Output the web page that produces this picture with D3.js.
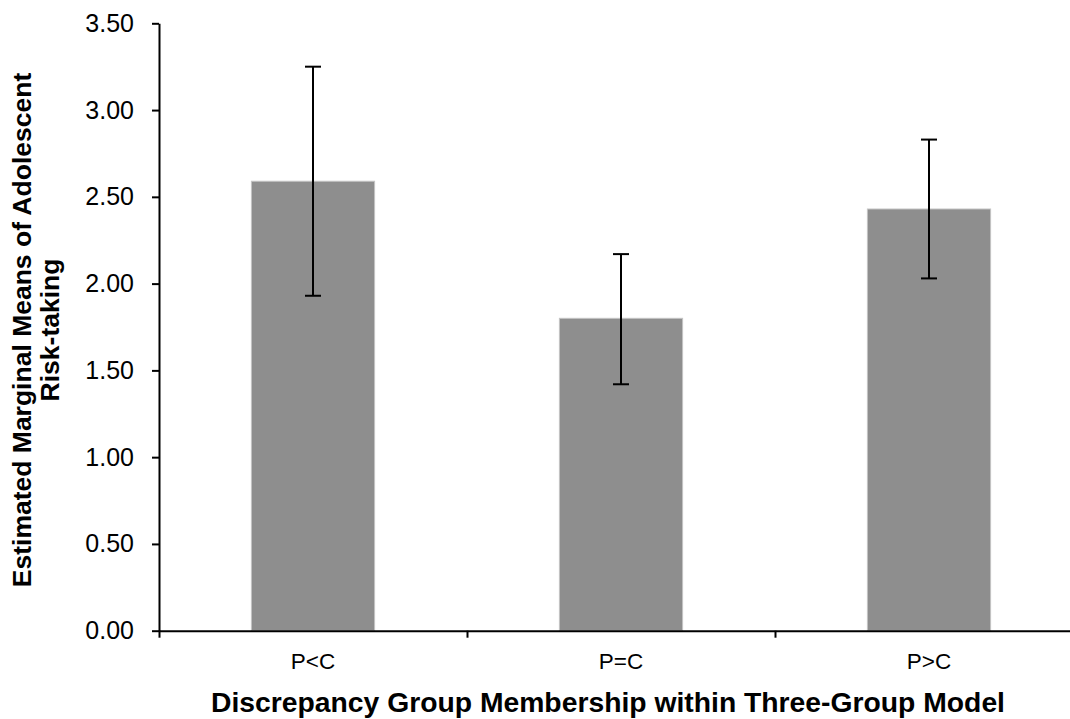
<!DOCTYPE html>
<html>
<head>
<meta charset="utf-8">
<script src="https://cdn.jsdelivr.net/npm/d3@7"></script>
<style>
  body { margin: 0; background: #fff; }
  svg { display: block; font-family: "Liberation Sans", Arial, sans-serif; }
</style>
</head>
<body>
<div class="chart"></div>
<script>
const groups = ["P<C", "P=C", "P>C"];
const means = [2.59, 1.80, 2.43];
const lower = [1.93, 1.42, 2.03];
const upper = [3.25, 2.17, 2.83];
const yTicks = [0, 0.5, 1, 1.5, 2, 2.5, 3, 3.5];

const data = groups.map((g, i) => ({ group: g, mean: means[i], lo: lower[i], hi: upper[i] }));

const margin = { top: 23.3, left: 159 };
const width = 924;
const height = 607.4;

const svg = d3
  .select(".chart")
  .append("svg")
  .attr("width", 1070)
  .attr("height", 719);

const g = svg
  .append("g")
  .attr("transform", "translate(" + margin.left + "," + margin.top + ")");

const xScale = d3
  .scaleBand()
  .domain(groups)
  .range([0, width])
  .paddingInner(0.6)
  .paddingOuter(0.3);

const yScale = d3.scaleLinear().domain([0, 3.5]).range([height, 0]);

// bars
g.selectAll(".bar")
  .data(data)
  .enter()
  .append("rect")
  .attr("class", "bar")
  .attr("x", (d) => xScale(d.group))
  .attr("y", (d) => yScale(d.mean))
  .attr("width", xScale.bandwidth())
  .attr("height", (d) => yScale(0) - yScale(d.mean))
  .attr("fill", "#8e8e8e")
  .attr("stroke", "#c4c4c4")
  .attr("stroke-width", 1);

// error bars
const cx = (d) => xScale(d.group) + xScale.bandwidth() / 2;
const err = g.selectAll(".err").data(data).enter().append("g").attr("class", "err");

err.append("line")
  .attr("x1", cx).attr("x2", cx)
  .attr("y1", (d) => yScale(d.hi))
  .attr("y2", (d) => yScale(d.lo))
  .attr("stroke", "black")
  .attr("stroke-width", 2);

["hi", "lo"].forEach((k) => {
  err.append("line")
    .attr("x1", (d) => cx(d) - 8)
    .attr("x2", (d) => cx(d) + 8)
    .attr("y1", (d) => yScale(d[k]))
    .attr("y2", (d) => yScale(d[k]))
    .attr("stroke", "black")
    .attr("stroke-width", 2);
});

// y axis
const yAxis = g
  .append("g")
  .call(
    d3.axisLeft(yScale)
      .tickValues(yTicks)
      .tickFormat(d3.format(".2f"))
      .tickSize(7)
      .tickSizeOuter(0)
      .tickPadding(18)
  );
yAxis.selectAll("text").style("font-size", "25px").attr("fill", "black");
yAxis.selectAll("line, path").attr("stroke", "black").attr("stroke-width", 2);

// x axis: ticks on category boundaries, labels at centres
const xEdge = d3.scaleLinear().domain([0, groups.length]).range([0, width]);
const xAxis = g
  .append("g")
  .attr("transform", "translate(0," + height + ")")
  .call(d3.axisBottom(xEdge).ticks(groups.length).tickFormat("").tickSize(7).tickSizeOuter(0));
xAxis.selectAll("line, path").attr("stroke", "black").attr("stroke-width", 2);

g.append("g")
  .selectAll(".xlabel")
  .data(groups)
  .enter()
  .append("text")
  .attr("class", "xlabel")
  .attr("x", (d) => xScale(d) + xScale.bandwidth() / 2)
  .attr("y", height + 38.5)
  .attr("text-anchor", "middle")
  .style("font-size", "22.5px")
  .text((d) => d);

// axis titles
svg.append("text")
  .attr("x", 608)
  .attr("y", 712)
  .attr("text-anchor", "middle")
  .style("font-size", "28.3px")
  .style("font-weight", "bold")
  .text("Discrepancy Group Membership within Three-Group Model");

const yTitle = svg.append("text")
  .attr("transform", "translate(0,330) rotate(-90)")
  .attr("text-anchor", "middle")
  .style("font-size", "26.5px")
  .style("font-weight", "bold");
yTitle.append("tspan").attr("x", 0).attr("y", 31).text("Estimated Marginal Means of Adolescent");
yTitle.append("tspan").attr("x", 0).attr("y", 59).text("Risk-taking");
</script>
</body>
</html>
